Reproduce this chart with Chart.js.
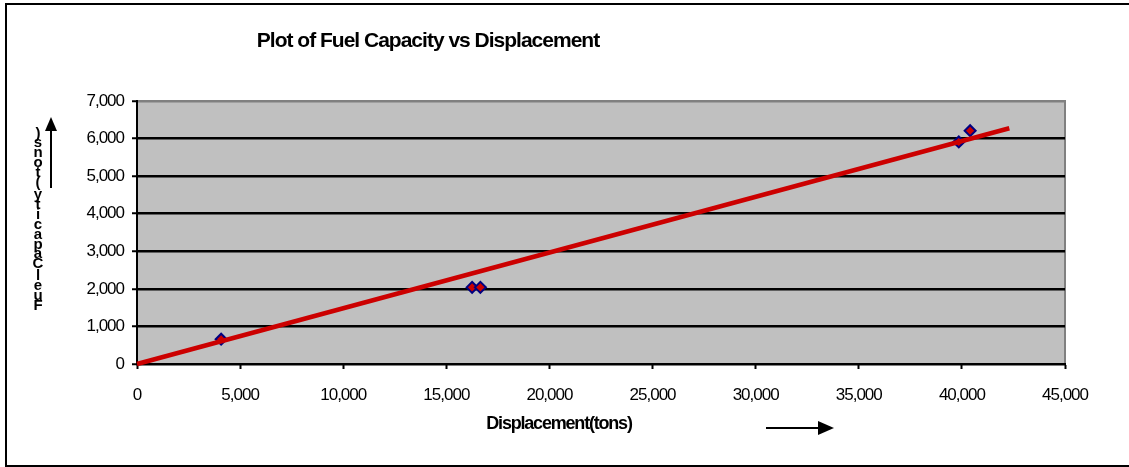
<!DOCTYPE html>
<html>
<head>
<meta charset="utf-8">
<script src="https://cdn.jsdelivr.net/npm/chart.js@4/dist/chart.umd.min.js"></script>
<style>
  html, body { margin: 0; padding: 0; background: #fff; }
  #wrap { width: 1129px; height: 467px; }
</style>
</head>
<body>
<div id="wrap"><canvas id="c" width="1129" height="467"></canvas></div>
<script>
// ---- data ----
const displacement = [4080, 16250, 16650, 39850, 40400];   // tons
const fuelCapacity = [660, 2040, 2040, 5910, 6210];         // tons
const trendX = [0, 42300];
const trendY = [0, 6275];
const xTicks = [0, 5000, 10000, 15000, 20000, 25000, 30000, 35000, 40000, 45000];
const yTicks = [0, 1000, 2000, 3000, 4000, 5000, 6000, 7000];
const chartTitle = 'Plot of Fuel Capacity vs Displacement';
const xTitle = 'Displacement(tons)';
const yTitle = 'Fuel Capacity (tons)';

const FONT = '"Liberation Sans", Arial, sans-serif';

const points = displacement.map((x, i) => ({ x: x, y: fuelCapacity[i] }));
const trend = trendX.map((x, i) => ({ x: x, y: trendY[i] }));

const decor = {
  id: 'decor',
  beforeDraw(chart) {
    const { ctx, chartArea: a } = chart;
    ctx.save();
    ctx.fillStyle = '#C0C0C0';
    ctx.fillRect(a.left, a.top, a.right - a.left, a.bottom - a.top);
    ctx.strokeStyle = '#808080';
    ctx.lineWidth = 2;
    ctx.beginPath();
    ctx.moveTo(a.left, a.top);
    ctx.lineTo(a.right, a.top);
    ctx.lineTo(a.right, a.bottom);
    ctx.stroke();
    ctx.restore();
    ctx.letterSpacing = '-1px';
  },
  afterDraw(chart) {
    const { ctx } = chart;
    ctx.save();
    ctx.letterSpacing = '0px';
    // outer frame
    ctx.strokeStyle = '#000';
    ctx.lineWidth = 2;
    ctx.strokeRect(6, 4, 1200, 462);
    // title
    ctx.fillStyle = '#000';
    ctx.font = 'bold 21px ' + FONT;
    ctx.letterSpacing = '-1px';
    ctx.textAlign = 'center';
    ctx.textBaseline = 'alphabetic';
    ctx.fillText(chartTitle, 428, 47);
    // x title
    ctx.font = 'bold 18px ' + FONT;
    ctx.letterSpacing = '-1.2px';
    ctx.fillText(xTitle, 559, 429);
    // y title stacked chars (bottom to top)
    ctx.font = 'bold 15px ' + FONT;
    ctx.letterSpacing = '0px';
    let yPos = 310;
    yTitle.split('').forEach((ch, i) => {
      if (i > 0) yPos -= (ch === ' ' || yTitle[i - 1] === ' ') ? 6 : 9.9;
      if (ch === ' ') return;
      ctx.fillText(ch, 38, yPos);
    });
    // arrows
    ctx.lineWidth = 2;
    ctx.beginPath();
    ctx.moveTo(51, 188); ctx.lineTo(51, 126); ctx.stroke();
    ctx.beginPath();
    ctx.moveTo(51, 117); ctx.lineTo(45, 131); ctx.lineTo(57, 131); ctx.closePath(); ctx.fill();
    ctx.beginPath();
    ctx.moveTo(766, 428); ctx.lineTo(822, 428); ctx.stroke();
    ctx.beginPath();
    ctx.moveTo(834, 428); ctx.lineTo(818, 421); ctx.lineTo(818, 435); ctx.closePath(); ctx.fill();
    ctx.restore();
  }
};

new Chart(document.getElementById('c'), {
  type: 'scatter',
  data: {
    datasets: [
      {
        label: 'Trend',
        data: trend,
        showLine: true,
        borderColor: '#CC0000',
        borderWidth: 4.5,
        pointRadius: 0,
        fill: false,
        clip: false
      },
      {
        label: 'Fuel Capacity',
        data: points,
        pointStyle: 'rectRot',
        pointRadius: 5.5,
        pointBackgroundColor: '#CC0000',
        pointBorderColor: '#000080',
        pointBorderWidth: 2,
        showLine: false
      }
    ]
  },
  options: {
    responsive: false,
    animation: false,
    devicePixelRatio: 1,
    layout: { padding: { top: 101, right: 64, left: 0, bottom: 0 } },
    plugins: { legend: { display: false }, title: { display: false }, tooltip: { enabled: false } },
    scales: {
      x: {
        type: 'linear',
        min: 0, max: 45000,
        afterBuildTicks(s) { s.ticks = xTicks.map(v => ({ value: v })); },
        afterFit(s) { s.height = 103; },
        grid: { drawOnChartArea: false, drawTicks: true, tickLength: 5, tickColor: '#000', tickWidth: 2 },
        border: { display: true, color: '#000', width: 2 },
        ticks: {
          color: '#000', padding: 16, maxRotation: 0, autoSkip: false,
          font: { family: FONT, size: 17 },
          callback: v => v.toLocaleString('en-US')
        }
      },
      y: {
        type: 'linear',
        min: 0, max: 7000,
        afterBuildTicks(s) { s.ticks = yTicks.map(v => ({ value: v })); },
        afterFit(s) { s.width = 137; },
        grid: {
          drawOnChartArea: true, drawTicks: true, tickLength: 5,
          color: c => (c.tick && c.tick.value === 7000) ? '#808080' : '#000',
          lineWidth: 2.5,
          tickColor: '#000', tickWidth: 2
        },
        border: { display: true, color: '#000', width: 2 },
        ticks: {
          color: '#000', padding: 8, autoSkip: false,
          font: { family: FONT, size: 17 },
          callback: v => v.toLocaleString('en-US')
        }
      }
    }
  },
  plugins: [decor]
});
</script>
</body>
</html>
